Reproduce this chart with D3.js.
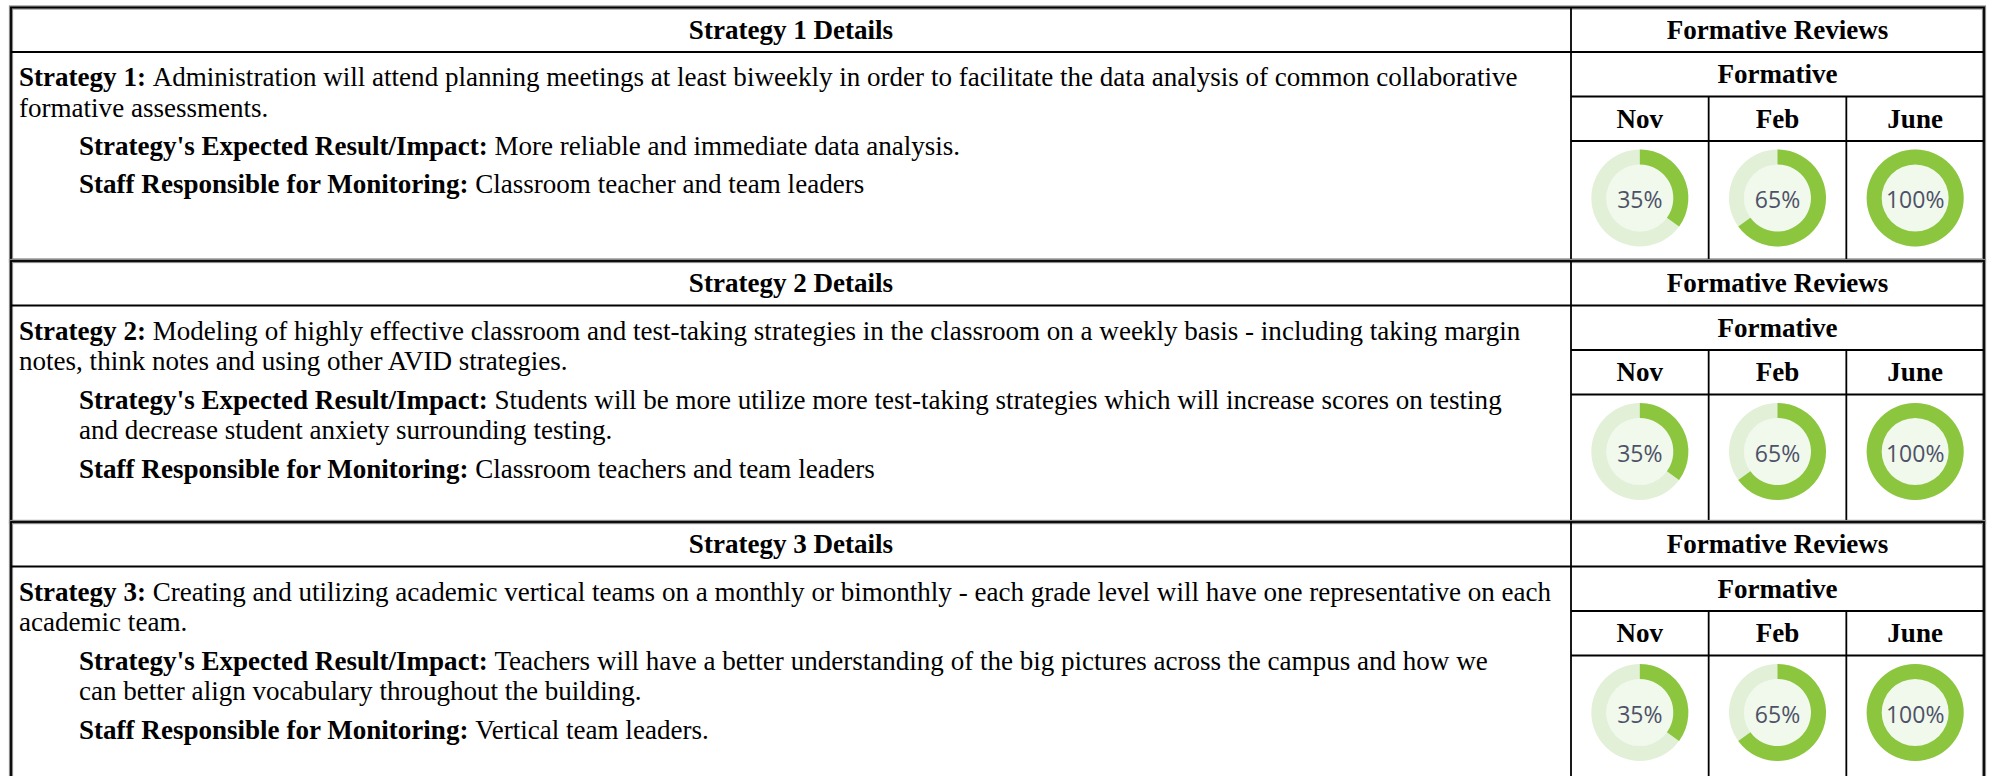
<!DOCTYPE html>
<html><head><meta charset="utf-8">
<script src="https://cdn.jsdelivr.net/npm/d3@7"></script>
<style>
html,body{margin:0;padding:0;background:#fff;}
svg{display:block;}
</style>
</head><body>
<svg id="chart" width="1993" height="776"></svg>
<script>
// ---------- data ----------
const sectionTitles = ["Strategy 1 Details", "Strategy 2 Details", "Strategy 3 Details"];
const strategyLabels = ["Strategy 1:", "Strategy 2:", "Strategy 3:"];
const strategyText = [
  ["Administration will attend planning meetings at least biweekly in order to facilitate the data analysis of common collaborative",
   "formative assessments."],
  ["Modeling of highly effective classroom and test-taking strategies in the classroom on a weekly basis - including taking margin",
   "notes, think notes and using other AVID strategies."],
  ["Creating and utilizing academic vertical teams on a monthly or bimonthly - each grade level will have one representative on each",
   "academic team."]
];
const expectedLabel = "Strategy's Expected Result/Impact:";
const expectedText = [
  ["More reliable and immediate data analysis."],
  ["Students will be more utilize more test-taking strategies which will increase scores on testing",
   "and decrease student anxiety surrounding testing."],
  ["Teachers will have a better understanding of the big pictures across the campus and how we",
   "can better align vocabulary throughout the building."]
];
const staffLabel = "Staff Responsible for Monitoring:";
const staffText = [
  ["Classroom teacher and team leaders"],
  ["Classroom teachers and team leaders"],
  ["Vertical team leaders."]
];
const reviewHeader = "Formative Reviews";
const reviewSubHeader = "Formative";
const reviewMonths = ["Nov", "Feb", "June"];
const reviewPercents = [
  [35, 65, 100],
  [35, 65, 100],
  [35, 65, 100]
];

// ---------- layout ----------
const left = 11, right = 1984, split = 1571;
const sectionTop = [7.5, 261, 522];
const sectionHeight = [253, 261, 261];
const headerH = 44.5, formH = 44.5, monthH = 44.5;
const lineH = 30.7, paraGap = 7.6;
const serif = "'Liberation Serif','Times New Roman',Times,serif";
const fs = 27.05;

const svg = d3.select("#chart");
const x = d3.scaleBand().domain(reviewMonths).range([split, right]);
const angle = d3.scaleLinear().domain([0, 100]).range([0, 2 * Math.PI]);
const rOuter = 48.5, rInner = 33.5;
const arc = d3.arc().innerRadius(rInner).outerRadius(rOuter);

sectionTitles.forEach((title, s) => {
  const T = sectionTop[s], H = sectionHeight[s];
  const g = svg.append("g");
  const yHead = T + headerH, yForm = yHead + formH, yMonth = yForm + monthH;

  // donuts
  const cy = yMonth + 57;
  reviewMonths.forEach((m, i) => {
    const cx = x(m) + x.bandwidth() / 2;
    const dg = g.append("g").attr("transform", `translate(${cx},${cy})`);
    dg.append("circle").attr("r", rInner).attr("fill", "#f1f8ec");
    dg.append("path").attr("d", arc({startAngle: 0, endAngle: 2 * Math.PI})).attr("fill", "#e2f0d8");
    dg.append("path").attr("d", arc({startAngle: 0, endAngle: angle(reviewPercents[s][i])})).attr("fill", "#8cc63f");
    dg.append("text").attr("text-anchor", "middle").attr("dominant-baseline", "central")
      .attr("y", 1)
      .attr("font-family", "'Open Sans','Noto Sans',sans-serif").attr("font-size", 23)
      .attr("fill", "#4d5268").text(reviewPercents[s][i] + "%");
  });

  // headers
  const hText = (tx, ty, str) => g.append("text").attr("x", tx).attr("y", ty)
    .attr("text-anchor", "middle").attr("dominant-baseline", "central")
    .attr("font-family", serif).attr("font-size", fs).attr("font-weight", "bold")
    .attr("fill", "#000").text(str);
  hText((left + split) / 2, T + headerH / 2, title);
  hText((split + right) / 2, T + headerH / 2, reviewHeader);
  hText((split + right) / 2, yHead + formH / 2, reviewSubHeader);
  reviewMonths.forEach(m => hText(x(m) + x.bandwidth() / 2, yForm + monthH / 2, m));

  // body text
  const paras = [
    {label: strategyLabels[s], lines: strategyText[s], x: 19},
    {label: expectedLabel, lines: expectedText[s], x: 79},
    {label: staffLabel, lines: staffText[s], x: 79}
  ];
  let y = yHead + 25;
  paras.forEach((p, pi) => {
    if (pi > 0) y += paraGap;
    p.lines.forEach((ln, li) => {
      const t = g.append("text").attr("x", p.x).attr("y", y)
        .attr("dominant-baseline", "central")
        .attr("font-family", serif).attr("font-size", fs).attr("fill", "#000");
      if (li === 0) {
        t.append("tspan").attr("font-weight", "bold").text(p.label + " ");
      }
      t.append("tspan").text(ln);
      y += lineH;
    });
  });

  // lines
  const line = (x1, y1, x2, y2, w, c) => g.append("line")
    .attr("x1", x1).attr("y1", y1).attr("x2", x2).attr("y2", y2)
    .attr("stroke", c || "#000").attr("stroke-width", w || 1.8);
  g.append("rect").attr("x", left).attr("y", T).attr("width", right - left).attr("height", H)
    .attr("fill", "none").attr("stroke", "#8a8a8a").attr("stroke-width", 4.2);
  g.append("rect").attr("x", left).attr("y", T).attr("width", right - left).attr("height", H)
    .attr("fill", "none").attr("stroke", "#000").attr("stroke-width", 1.8);
  line(split, T, split, T + H);
  line(left, yHead, right, yHead);
  line(split, yForm, right, yForm);
  line(split, yMonth, right, yMonth);
  reviewMonths.slice(1).forEach(m => line(x(m), yForm, x(m), T + H));
});
</script>
</body></html>
